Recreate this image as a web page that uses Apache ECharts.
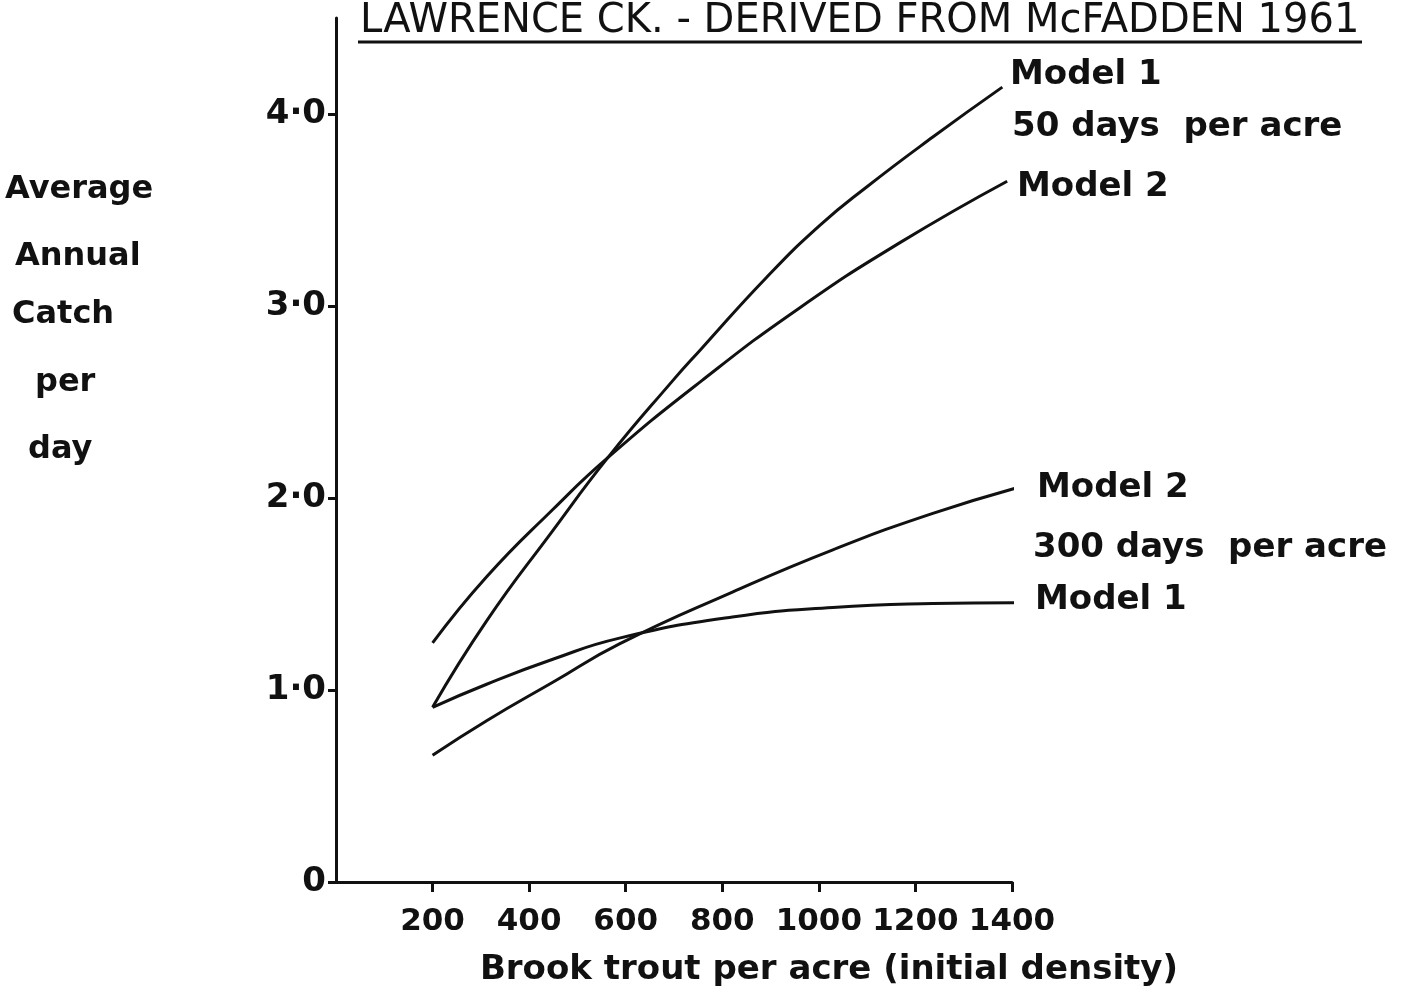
<!DOCTYPE html>
<html>
<head>
<meta charset="utf-8">
<script src="https://cdn.jsdelivr.net/npm/echarts@6/dist/echarts.min.js"></script>
<style>
html,body{margin:0;padding:0;background:#ffffff;}
#chart{width:1413px;height:994px;}
</style>
</head>
<body>
<div id="chart"></div>
<script>
// ---- Data ----
const xTickValues = [200, 400, 600, 800, 1000, 1200, 1400];
const yTickValues = [0, 1, 2, 3, 4];
const yTickLabels = ['0', '1·0', '2·0', '3·0', '4·0'];

// Model 1, 50 days per acre
const m1_50_x = [200, 312, 449, 563, 697, 754, 892, 1002, 1099, 1236, 1380];
const m1_50_y = [0.91, 1.36, 1.83, 2.21, 2.61, 2.77, 3.15, 3.42, 3.62, 3.88, 4.14];
// Model 2, 50 days per acre
const m2_50_x = [200, 312, 449, 563, 757, 960, 1168, 1390];
const m2_50_y = [1.245, 1.59, 1.94, 2.21, 2.61, 2.99, 3.33, 3.65];
// Model 2, 300 days per acre
const m2_300_x = [200, 312, 449, 587, 821, 1029, 1236, 1420];
const m2_300_y = [0.66, 0.84, 1.04, 1.24, 1.51, 1.73, 1.92, 2.06];
// Model 1, 300 days per acre
const m1_300_x = [200, 312, 449, 587, 821, 1029, 1236, 1420];
const m1_300_y = [0.91, 1.03, 1.16, 1.27, 1.38, 1.43, 1.45, 1.455];

const titleText = 'LAWRENCE CK. - DERIVED FROM McFADDEN 1961';
const xAxisTitle = 'Brook trout per acre (initial density)';
const yAxisTitleLines = ['Average', 'Annual', 'Catch', 'per', 'day'];

// ---- Chart ----
const pairs = (xs, ys) => xs.map((x, i) => [x, ys[i]]);
const FONT = '"DejaVu Sans", sans-serif';
const INK = '#111111';

const chart = echarts.init(document.getElementById('chart'), null, {renderer: 'canvas'});

function lineSeries(name, xs, ys) {
  return {
    name: name,
    type: 'line',
    data: pairs(xs, ys),
    smooth: 0.5,
    showSymbol: false,
    symbol: 'none',
    clip: false,
    lineStyle: {color: INK, width: 3},
    emphasis: {disabled: true},
    silent: true
  };
}

function txt(text, x, y, size, weight, align) {
  return {
    type: 'text',
    x: x, y: y,
    style: {
      text: text,
      fill: INK,
      font: (weight || 'bold') + ' ' + size + 'px ' + FONT,
      textAlign: align || 'left',
      textVerticalAlign: 'middle'
    },
    silent: true
  };
}

const yPos = [190, 257, 315, 383, 450];
const yLeft = [5, 15, 12, 35, 28];

const graphics = [
  txt(titleText, 360, 22, 40, 'normal'),
  {type: 'line', shape: {x1: 358, y1: 42, x2: 1362, y2: 42}, style: {stroke: INK, lineWidth: 3}, silent: true},
  txt('Model 1', 1010, 75, 34),
  txt('50 days  per acre', 1012, 127, 34),
  txt('Model 2', 1017, 187, 34),
  txt('Model 2', 1037, 488, 34),
  txt('300 days  per acre', 1033, 548, 34),
  txt('Model 1', 1035, 600, 34),
  txt(xAxisTitle, 829, 970, 34, 'bold', 'center')
];
yAxisTitleLines.forEach((s, i) => graphics.push(txt(s, yLeft[i], yPos[i], 32)));

chart.setOption({
  backgroundColor: '#ffffff',
  animation: false,
  grid: {left: 336, right: 401, top: 18, bottom: 112, containLabel: false},
  xAxis: {
    type: 'value',
    min: 0, max: 1400, interval: 200,
    axisLine: {show: true, lineStyle: {color: INK, width: 3}},
    axisTick: {show: true, length: 10, lineStyle: {color: INK, width: 3}, customValues: xTickValues},
    axisLabel: {
      show: true, margin: 24, color: INK,
      fontFamily: FONT, fontWeight: 'bold', fontSize: 31,
      showMaxLabel: true, hideOverlap: false,
      customValues: xTickValues,
      formatter: function (v) { return String(v); }
    },
    splitLine: {show: false}
  },
  yAxis: {
    type: 'value',
    min: 0, max: 4.5, interval: 1,
    axisLine: {show: true, lineStyle: {color: INK, width: 3}},
    axisTick: {show: true, length: 8, lineStyle: {color: INK, width: 3}, customValues: yTickValues},
    axisLabel: {
      show: true, margin: 10, color: INK,
      fontFamily: FONT, fontWeight: 'bold', fontSize: 34,
      customValues: yTickValues,
      formatter: function (v) {
        const i = yTickValues.indexOf(Math.round(v));
        return i >= 0 ? yTickLabels[i] : '';
      }
    },
    splitLine: {show: false}
  },
  series: [
    lineSeries('Model 1 (50 days per acre)', m1_50_x, m1_50_y),
    lineSeries('Model 2 (50 days per acre)', m2_50_x, m2_50_y),
    lineSeries('Model 2 (300 days per acre)', m2_300_x, m2_300_y),
    lineSeries('Model 1 (300 days per acre)', m1_300_x, m1_300_y)
  ],
  graphic: graphics
});
</script>
</body>
</html>
